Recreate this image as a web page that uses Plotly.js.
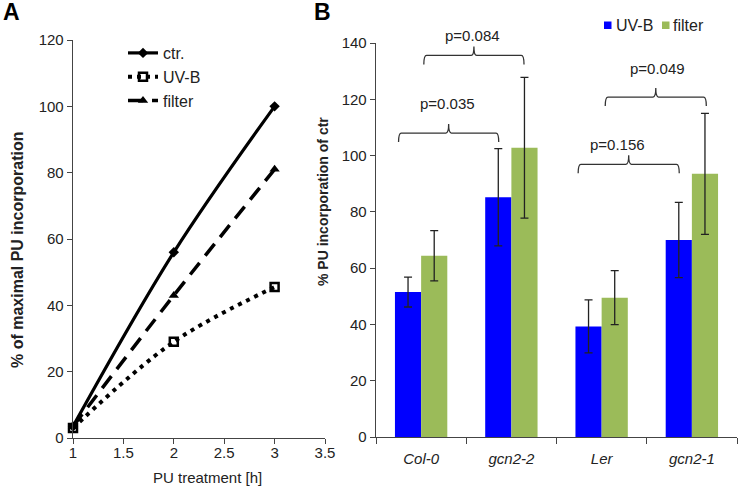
<!DOCTYPE html>
<html><head><meta charset="utf-8">
<script src="https://cdn.plot.ly/plotly-3.0.1.min.js"></script>
<style>html,body{margin:0;padding:0;background:#fff}#c{width:738px;height:487px}</style>
</head><body><div id="c"></div>
<script>
// Panel A
var hours = [1, 2, 3];
var ctr = [3.5, 56, 100];
var uvbA = [3, 29, 45.5];
var filterA = [3.5, 43, 81];
// Panel B
var genotypes = ['Col-0', 'gcn2-2', 'Ler', 'gcn2-1'];
var uvbB = [51.5, 85.2, 39.3, 70];
var uvbErr = [5.3, 17.3, 9.4, 13.4];
var filterB = [64.4, 102.8, 49.5, 93.5];
var filterErr = [8.9, 25, 9.6, 21.5];
// p-value brackets
var pLabels = ['p=0.035', 'p=0.084', 'p=0.156', 'p=0.049'];
var bracketLeft = [-0.25, 0.03, 1.74, 2.04];
var bracketRight = [0.86, 1.14, 2.86, 3.16];
var bracketY = [108, 135.6, 96.9, 120.8];
var labelX = [0.294, 0.572, 2.172, 2.624];
var labelY = [118.6, 142.5, 104.1, 130.8];

var F = 'Liberation Sans, Arial, sans-serif';
var traces = [
  {x: hours, y: ctr, name: 'ctr.', mode: 'lines+markers', line: {color: '#000', width: 3.2, shape: 'spline'},
   marker: {symbol: 'diamond', size: 8, color: '#000'}, xaxis: 'x', yaxis: 'y', legend: 'legend', cliponaxis: false},
  {x: hours, y: uvbA, name: 'UV-B', mode: 'lines+markers', line: {color: '#000', width: 4, dash: '4px,5px', shape: 'spline'},
   marker: {symbol: 'square-open', size: 8, color: '#000', line: {width: 2.5, color: '#000'}}, xaxis: 'x', yaxis: 'y', legend: 'legend', cliponaxis: false},
  {x: hours, y: filterA, name: 'filter', mode: 'lines+markers', line: {color: '#000', width: 3.5, dash: '15px,9px', shape: 'spline'},
   marker: {symbol: 'triangle-up', size: 9, color: '#000'}, xaxis: 'x', yaxis: 'y', legend: 'legend', cliponaxis: false},
  {type: 'bar', x: genotypes, y: uvbB, name: 'UV-B', marker: {color: '#0000FF'},
   error_y: {type: 'data', array: uvbErr, visible: true, color: '#222', thickness: 1.3, width: 4},
   xaxis: 'x2', yaxis: 'y2', showlegend: false},
  {type: 'bar', x: genotypes, y: filterB, name: 'filter', marker: {color: '#9BBB59'},
   error_y: {type: 'data', array: filterErr, visible: true, color: '#222', thickness: 1.3, width: 4},
   xaxis: 'x2', yaxis: 'y2', showlegend: false}
];

function px(x) { return x / 738; }
function py(y) { return (487 - y) / 487; }
function y2px(v) { return 437 - v * 394 / 140; }

var shapes = [], annotations = [];
pLabels.forEach(function(lab, i){
  var x0 = bracketLeft[i], x1 = bracketRight[i], y = bracketY[i];
  var c = (x0 + x1) / 2, d = 3.2, r = 0.03, tip = 3.2;
  var p = 'M' + x0 + ',' + (y - d) +
    ' Q' + x0 + ',' + y + ' ' + (x0 + r) + ',' + y +
    ' L' + (c - r) + ',' + y +
    ' Q' + c + ',' + y + ' ' + c + ',' + (y + tip) +
    ' Q' + c + ',' + y + ' ' + (c + r) + ',' + y +
    ' L' + (x1 - r) + ',' + y +
    ' Q' + x1 + ',' + y + ' ' + x1 + ',' + (y - d);
  shapes.push({type: 'path', path: p, xref: 'x2', yref: 'y2', line: {color: '#333', width: 1.3}});
  annotations.push({x: labelX[i], y: py(y2px(labelY[i])), xref: 'x2', yref: 'paper', text: lab, showarrow: false,
    xanchor: 'center', yanchor: 'middle', font: {family: F, size: 15, color: '#222'}});
});
// panel letters
annotations.push({x: px(1), y: py(12), xref: 'paper', yref: 'paper', text: '<b>A</b>', showarrow: false,
  font: {family: F, size: 23, color: '#000'}, xanchor: 'left', yanchor: 'middle'});
annotations.push({x: px(312), y: py(12), xref: 'paper', yref: 'paper', text: '<b>B</b>', showarrow: false,
  font: {family: F, size: 23, color: '#000'}, xanchor: 'left', yanchor: 'middle'});
// axis titles
annotations.push({x: px(18), y: py(250), xref: 'paper', yref: 'paper', text: '<b>% of maximal PU incorporation</b>', showarrow: false,
  xanchor: 'center', yanchor: 'middle', textangle: -90, font: {family: F, size: 16, color: '#222'}});
annotations.push({x: px(323), y: py(202), xref: 'paper', yref: 'paper', text: '<b>% PU incorporation of ctr</b>', showarrow: false,
  xanchor: 'center', yanchor: 'middle', textangle: -90, font: {family: F, size: 14, color: '#222'}});
annotations.push({x: px(208), y: py(477), xref: 'paper', yref: 'paper', text: 'PU treatment [h]', showarrow: false,
  xanchor: 'center', yanchor: 'middle', font: {family: F, size: 15, color: '#222'}});
// panel B legend (manual)
var legItems = [{name: 'UV-B', color: '#0000FF', sx: 604, tx: 614}, {name: 'filter', color: '#9BBB59', sx: 662, tx: 671}];
legItems.forEach(function(it){
  shapes.push({type: 'rect', xref: 'paper', yref: 'paper', x0: px(it.sx), x1: px(it.sx + 7.5), y0: py(29), y1: py(21.5),
    fillcolor: it.color, line: {width: 0}});
  annotations.push({x: px(it.tx), y: py(25), xref: 'paper', yref: 'paper', text: it.name, showarrow: false,
    xanchor: 'left', yanchor: 'middle', font: {family: F, size: 16, color: '#222'}});
});

var tickFont = {family: F, size: 15, color: '#222'};
var layout = {
  width: 738, height: 487, margin: {l: 0, r: 0, t: 0, b: 0},
  paper_bgcolor: '#fff', plot_bgcolor: '#fff', font: {family: F, color: '#222'},
  barmode: 'group', bargap: 0.42, bargroupgap: 0,
  xaxis: {domain: [73/738, 325/738], range: [1, 3.5], tickvals: [1, 1.5, 2, 2.5, 3, 3.5], ticktext: ['1','1.5','2','2.5','3','3.5'],
    showgrid: false, zeroline: false, showline: true, linecolor: '#444', linewidth: 1.3,
    ticks: 'outside', ticklen: 5, tickcolor: '#444', tickfont: tickFont, anchor: 'y', ticklabelstandoff: -4},
  yaxis: {domain: [49/487, 447/487], range: [0, 120], tickvals: [0,20,40,60,80,100,120],
    showgrid: false, zeroline: false, showline: true, linecolor: '#444', linewidth: 1.3,
    ticks: 'outside', ticklen: 5, tickcolor: '#444', tickfont: tickFont, anchor: 'x'},
  xaxis2: {domain: [376/738, 737/738], range: [-0.5, 3.5], type: 'category', tickson: 'boundaries',
    showgrid: false, zeroline: false, showline: true, linecolor: '#444', linewidth: 1.3,
    ticks: 'outside', ticklen: 6, tickcolor: '#444', anchor: 'y2', ticklabelstandoff: 8,
    tickfont: {family: F, size: 15, color: '#222', style: 'italic'}},
  yaxis2: {domain: [50/487, 444/487], range: [0, 140], tickvals: [0,20,40,60,80,100,120,140],
    showgrid: false, zeroline: false, showline: true, linecolor: '#444', linewidth: 1.3,
    ticks: 'outside', ticklen: 5, tickcolor: '#444', tickfont: tickFont, anchor: 'x2'},
  legend: {x: px(123), y: py(36), xanchor: 'left', yanchor: 'top', bgcolor: 'rgba(0,0,0,0)',
    font: {family: F, size: 16, color: '#222'}, itemwidth: 30, tracegroupgap: 0},
  shapes: shapes, annotations: annotations, showlegend: true
};
Plotly.newPlot('c', traces, layout, {displayModeBar: false, staticPlot: true});
</script></body></html>
